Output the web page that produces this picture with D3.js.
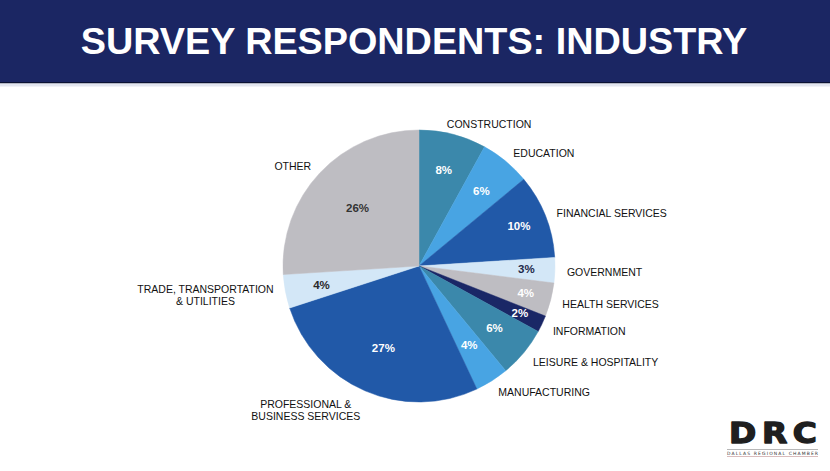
<!DOCTYPE html>
<html>
<head>
<meta charset="utf-8">
<script src="https://cdn.jsdelivr.net/npm/d3@7"></script>
<style>
  html, body { margin: 0; padding: 0; background: #ffffff; }
  svg { display: block; }
</style>
</head>
<body>
<svg id="chart" width="830" height="471"></svg>
<script>
// ---------- DATA ----------
const title = "SURVEY RESPONDENTS: INDUSTRY";
const categories = [
  "CONSTRUCTION",
  "EDUCATION",
  "FINANCIAL SERVICES",
  "GOVERNMENT",
  "HEALTH SERVICES",
  "INFORMATION",
  "LEISURE & HOSPITALITY",
  "MANUFACTURING",
  "PROFESSIONAL &\nBUSINESS SERVICES",
  "TRADE, TRANSPORTATION\n& UTILITIES",
  "OTHER"
];
const values = [8, 6, 10, 3, 4, 2, 6, 4, 27, 4, 26];
const logoText = "DRC";
const logoSubtext = "DALLAS REGIONAL CHAMBER";

// ---------- STYLE / LAYOUT ----------
const W = 830, H = 471;
const cx = 419, cy = 266, R = 136;
const sliceColors = ["#3b88ab", "#48a4e3", "#2159a8", "#d3e7f7", "#bebdc2",
                     "#1a2766", "#3b88ab", "#48a4e3", "#2159a8", "#d3e7f7", "#bebdc2"];
const pctColors = ["#ffffff", "#ffffff", "#ffffff", "#1e2a4a", "#ffffff",
                   "#ffffff", "#ffffff", "#ffffff", "#ffffff", "#2a2a2a", "#333333"];
const pctRadiusFrac = [0.73, 0.72, 0.79, 0.79, 0.81, 0.82, 0.72, 0.69, 0.66, 0.73, 0.62];
const outerLabelNudgeX = [-9, 0, 0, 0, 0, 0, 0, 0, 0, 0, 0];
const outerLabelR = 148;

const svg = d3.select("#chart");

// header bar
svg.append("rect").attr("x", 0).attr("y", 0).attr("width", W).attr("height", 82).attr("fill", "#1b2663");
svg.append("rect").attr("x", 0).attr("y", 82).attr("width", W).attr("height", 1.5).attr("fill", "#0b1233");
svg.append("rect").attr("x", 0).attr("y", 83.5).attr("width", W).attr("height", 3).attr("fill", "#e3e6ef");

const titleText = svg.append("text")
  .attr("x", 0).attr("y", 0)
  .attr("font-family", "'Liberation Sans', Arial, sans-serif")
  .attr("font-weight", "bold")
  .attr("font-size", 36.5)
  .attr("fill", "#ffffff")
  .attr("text-anchor", "middle")
  .text(title);
const tw = titleText.node().getComputedTextLength();
const targetW = 667;
titleText.attr("transform", `translate(414,53.5) scale(${targetW / tw},1)`);

// pie
const pie = d3.pie().sort(null).value(d => d.value).startAngle(0).endAngle(2 * Math.PI);
const data = categories.map((c, i) => ({ name: c, value: values[i], i }));
const arcs = pie(data);
const arc = d3.arc().innerRadius(0).outerRadius(R);

const g = svg.append("g").attr("transform", `translate(${cx},${cy})`);
g.selectAll("path.slice")
  .data(arcs)
  .enter().append("path")
  .attr("class", "slice")
  .attr("d", arc)
  .attr("fill", d => sliceColors[d.data.i])
  .attr("stroke", d => sliceColors[d.data.i])
  .attr("stroke-width", 0.5);

// percentage labels
g.selectAll("text.pct")
  .data(arcs)
  .enter().append("text")
  .attr("class", "pct")
  .each(function(d) {
    const a = (d.startAngle + d.endAngle) / 2;
    const r = R * pctRadiusFrac[d.data.i];
    d3.select(this)
      .attr("x", r * Math.sin(a))
      .attr("y", -r * Math.cos(a));
  })
  .attr("text-anchor", "middle")
  .attr("dominant-baseline", "central")
  .attr("font-family", "'Liberation Sans', Arial, sans-serif")
  .attr("font-weight", "bold")
  .attr("font-size", 11.5)
  .attr("fill", d => pctColors[d.data.i])
  .text(d => d.data.value + "%");

// outer category labels
const lineH = 12;
arcs.forEach(d => {
  const a = (d.startAngle + d.endAngle) / 2;
  const ax = outerLabelR * Math.sin(a) + outerLabelNudgeX[d.data.i];
  const ay = -outerLabelR * Math.cos(a);
  const lines = d.data.name.split("\n");
  const right = Math.sin(a) >= 0;
  const t = g.append("text")
    .attr("font-family", "'Liberation Sans', Arial, sans-serif")
    .attr("font-size", 10.5)
    .attr("fill", "#111111");
  if (lines.length === 1) {
    t.attr("x", ax).attr("y", ay + 1.5)
     .attr("dominant-baseline", "central")
     .attr("text-anchor", right ? "start" : "end")
     .text(lines[0]);
  } else {
    const tmp = g.append("text").attr("font-family", "'Liberation Sans', Arial, sans-serif").attr("font-size", 10.5);
    let maxW = 0;
    lines.forEach(l => { tmp.text(l); maxW = Math.max(maxW, tmp.node().getComputedTextLength()); });
    tmp.remove();
    const bx = right ? ax + maxW / 2 : ax - maxW / 2;
    const by = ay + 9 * Math.max(0, -Math.cos(a)) - (lines.length - 1) * lineH / 2;
    t.attr("text-anchor", "middle").attr("dominant-baseline", "central");
    lines.forEach((l, k) => {
      t.append("tspan").attr("x", bx).attr("y", by + k * lineH).text(l);
    });
  }
});

// logo
const logo = svg.append("g");
const logoMain = logo.append("text")
  .attr("x", 0).attr("y", 0)
  .attr("font-family", "'DejaVu Sans', 'Liberation Sans', sans-serif")
  .attr("font-weight", "bold")
  .attr("font-size", 29)
  .attr("letter-spacing", 5)
  .attr("fill", "#1f1f1f")
  .attr("stroke", "#1f1f1f")
  .attr("stroke-width", 1.4)
  .attr("stroke-linejoin", "round")
  .text(logoText);
const lw = logoMain.node().getComputedTextLength() - 5;
logoMain.attr("transform", `translate(729,442.5) scale(${88 / lw},1)`);
logo.append("rect").attr("x", 727).attr("y", 449).attr("width", 91).attr("height", 0.6).attr("fill", "#888");
logo.append("text")
  .attr("x", 727).attr("y", 454.5)
  .attr("font-family", "'DejaVu Sans', sans-serif")
  .attr("font-size", 4.5)
  .attr("fill", "#333")
  .attr("textLength", 91)
  .attr("lengthAdjust", "spacing")
  .text(logoSubtext);
logo.append("rect").attr("x", 727).attr("y", 456.3).attr("width", 91).attr("height", 0.7).attr("fill", "#c9a0a0");
</script>
</body>
</html>
